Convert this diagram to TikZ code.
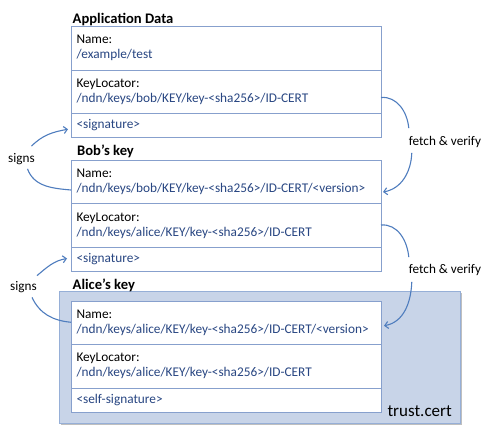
\documentclass[tikz,border=0pt]{standalone}
\usepackage{fontspec}
\setmainfont{Carlito}
\usetikzlibrary{arrows.meta,calc}
\definecolor{fieldborder}{RGB}{135,160,205}
\definecolor{pathblue}{RGB}{40,70,130}
\definecolor{arrowblue}{RGB}{79,125,190}
\definecolor{trustfill}{RGB}{200,212,232}
\definecolor{trustborder}{RGB}{150,175,215}
\tikzset{
  field/.style={draw=fieldborder, fill=white, line width=0.8pt, anchor=north west,
    inner xsep=5.5pt, inner ysep=0pt, outer sep=0pt, text width=299pt, align=left,
    font=\fontsize{13.3}{15}\selectfont, text=pathblue},
  title/.style={font=\fontsize{14.6}{16}\selectfont\bfseries, anchor=base west, inner sep=0pt},
  side/.style={font=\fontsize{13.2}{15}\selectfont, inner sep=0pt},
  conn/.style={draw=arrowblue, line width=1.1pt},
  arr/.style={conn, -{Straight Barb[length=3.5pt,width=7pt]}},
}
\begin{document}
\begin{tikzpicture}[x=1pt,y=1pt]
\useasboundingbox (0,0) rectangle (490,429);
% trust box
\fill[black!25] (60.5,4) rectangle (461.5,136);
\node[draw=trustborder, fill=trustfill, line width=0.9pt, minimum width=401pt, minimum height=132pt,
  anchor=south west, inner sep=0pt, outer sep=0pt] (trust) at (59,5.5) {};
\node[font=\fontsize{17}{19}\selectfont, anchor=base east, inner sep=0pt] (trustlbl) at (452,12.3) {trust.cert};

% Application Data
\node[title] (atitle) at (72.5,405.5) {Application Data};
\node[field, minimum height=44pt] (aname) at (71,403) {{\color{black}Name:}\\/example/test};
\node[field, minimum height=43pt] (akl) at (aname.south west) {{\color{black}KeyLocator:}\\/ndn/keys/bob/KEY/key-<sha256>/ID-CERT};
\node[field, minimum height=24.5pt] (asig) at (akl.south west) {<signature>};

% Bob's key
\node[title] (btitle) at (77,273) {Bob’s key};
\node[field, minimum height=43pt] (bname) at (71,268.5) {{\color{black}Name:}\\/ndn/keys/bob/KEY/key-<sha256>/ID-CERT/<version>};
\node[field, minimum height=44pt] (bkl) at (bname.south west) {{\color{black}KeyLocator:}\\/ndn/keys/alice/KEY/key-<sha256>/ID-CERT};
\node[field, minimum height=24pt] (bsig) at (bkl.south west) {<signature>};

% Alice's key
\node[title] (ctitle) at (72.5,139.7) {Alice’s key};
\node[field, minimum height=43.5pt] (cname) at (71,128) {{\color{black}Name:}\\/ndn/keys/alice/KEY/key-<sha256>/ID-CERT/<version>};
\node[field, minimum height=43.5pt] (ckl) at (cname.south west) {{\color{black}KeyLocator:}\\/ndn/keys/alice/KEY/key-<sha256>/ID-CERT};
\node[field, minimum height=24pt] (csig) at (ckl.south west) {<self-signature>};

% side labels
\node[side] (signs1) at (21.5,270) {signs};
\node[side] (signs2) at (23.5,141.5) {signs};
\node[side] (fetch1) at (445,287) {fetch \& verify};
\node[side] (fetch2) at (445,159) {fetch \& verify};

% signs arrows
\draw[arr] ($(signs1.north)+(10,7)$) to[out=45,in=190] ($(asig.west)+(-3,-4)$);
\draw[conn] ($(signs1.south)+(6,-4)$) to[out=-70,in=175] ($(bname.west)+(0,-8)$);
\draw[arr] ($(signs2.north)+(13.5,6)$) to[out=40,in=190] ($(bsig.west)+(-4,1)$);
\draw[conn] ($(signs2.south)+(8.5,-4)$) to[out=-65,in=175] ($(cname.west)+(0,0.5)$);

% fetch arrows
\draw[conn] ($(akl.east)+(0,-6)$) to[out=5,in=95] ($(fetch1.north west)+(0,8)$);
\draw[arr] ($(fetch1.south west)+(3,-5)$) to[out=-92,in=10] ($(bname.east)+(2,-10)$);
\draw[conn] ($(bkl.east)+(0,0.5)$) to[out=5,in=95] ($(fetch2.north west)+(0,7)$);
\draw[arr] ($(fetch2.south west)+(3,-6)$) to[out=-92,in=10] ($(cname.east)+(3,-3)$);
\end{tikzpicture}
\end{document}
